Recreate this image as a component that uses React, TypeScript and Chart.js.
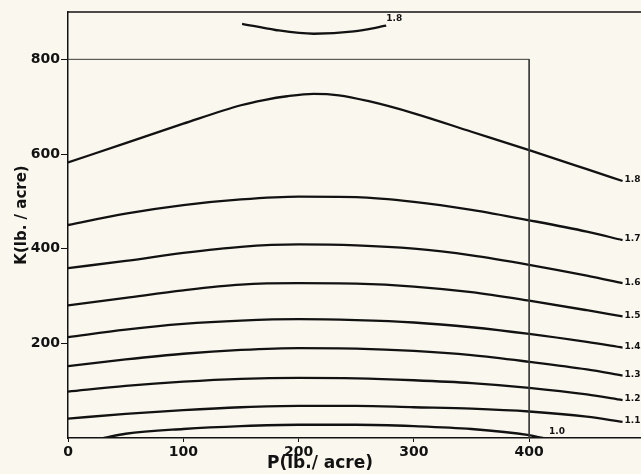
import { useEffect, useRef } from "react";
import { Chart, registerables } from "chart.js";

Chart.register(...registerables);

// Tick labels
const pTicks = [0, 100, 200, 300, 400];
const kTicks = [200, 400, 600, 800];

// Contour levels (yield index)
const contourLevels = ["1.8", "1.7", "1.6", "1.5", "1.4", "1.3", "1.2", "1.1"];

// P values at which the contours were read
const pGrid = [0, 50, 100, 150, 200, 250, 300, 350, 400, 450, 481];

// 1.8 main contour (own P positions, peaked)
const p18 = [0, 50, 100, 150, 170, 190, 213, 235, 260, 300, 350, 400, 450, 481];
const k18 = [582, 623, 664, 703, 714, 722, 727, 724, 712, 686, 647, 608, 568, 543];

const k17 = [450, 474, 492, 504, 510, 509, 499, 482, 460, 436, 418];
const k16 = [359, 374, 391, 404, 409, 407, 400, 386, 366, 343, 327];
const k15 = [280, 296, 312, 324, 327, 326, 320, 308, 290, 270, 257];
const k14 = [213, 229, 241, 248, 251, 249, 244, 234, 220, 203, 191];
const k13 = [152, 166, 178, 186, 190, 189, 184, 175, 161, 145, 132];
const k12 = [98, 110, 119, 125, 127, 126, 122, 116, 106, 92, 80];
const k11 = [41, 51, 59, 65, 68, 68, 65, 62, 56, 45, 34];

// 1.0 contour
const p10 = [31, 50, 100, 150, 200, 250, 300, 350, 400, 412];
const k10 = [0, 9, 19, 25, 28, 28, 25, 19, 6, 0];

// small 1.8 island near the top
const pIsland = [151, 180, 213, 248, 276];
const kIsland = [875, 862, 854, 859, 871];

// reference rectangle (P 0..400, K 0..800)
const boxP = [0, 400, 400];
const boxK = [800, 800, 0];

const FONT = '"DejaVu Sans", sans-serif';
const INK = "#121212";
const PAPER = "#faf8ee";

function pts(xs: number[], ys: number[]) {
  return xs.map((x, i) => ({ x, y: ys[i] }));
}

export default function App() {
  const ref = useRef<HTMLCanvasElement | null>(null);

  useEffect(() => {
    if (!ref.current) return;

    const curveStyle = {
      borderColor: INK,
      borderWidth: 2.3,
      pointRadius: 0,
      cubicInterpolationMode: "monotone" as const,
      fill: false,
    };

    const mids = [k17, k16, k15, k14, k13, k12, k11];

    const datasets: any[] = [
      {
        data: pts(boxP, boxK),
        borderColor: "#3a3a3a",
        borderWidth: 1,
        pointRadius: 0,
        tension: 0,
        fill: false,
      },
      { ...curveStyle, data: pts(p18, k18), endLabel: contourLevels[0], dx: 2, dy: -1 },
      ...mids.map((ks, i) => ({
        ...curveStyle,
        data: pts(pGrid, ks),
        endLabel: contourLevels[i + 1],
        dx: 2,
        dy: -1,
      })),
      { ...curveStyle, data: pts(p10, k10), endLabel: "1.0", dx: 6, dy: -6 },
      { ...curveStyle, data: pts(pIsland, kIsland), endLabel: "1.8", dx: 0, dy: -7 },
    ];

    const paperPlugin = {
      id: "paper",
      beforeDraw(chart: any) {
        const c = chart.ctx;
        c.save();
        c.fillStyle = PAPER;
        c.fillRect(0, 0, chart.width, chart.height);
        c.restore();
      },
    };

    const decorPlugin = {
      id: "decor",
      afterDraw(chart: any) {
        const c = chart.ctx;
        const a = chart.chartArea;
        c.save();
        // top frame line
        c.strokeStyle = INK;
        c.lineWidth = 1.5;
        c.beginPath();
        c.moveTo(a.left, a.top);
        c.lineTo(a.right, a.top);
        c.stroke();

        // contour labels
        c.fillStyle = INK;
        c.font = `bold 9px ${FONT}`;
        c.textAlign = "left";
        c.textBaseline = "middle";
        chart.data.datasets.forEach((ds: any, i: number) => {
          if (!ds.endLabel) return;
          const meta = chart.getDatasetMeta(i);
          const last = meta.data[meta.data.length - 1];
          c.fillText(ds.endLabel, last.x + ds.dx, last.y + ds.dy);
        });

        // axis titles
        c.font = `bold 17px ${FONT}`;
        c.textAlign = "center";
        c.textBaseline = "middle";
        c.fillText("P(lb./ acre)", 320, 464);

        c.save();
        c.translate(22, 215);
        c.rotate(-Math.PI / 2);
        c.font = `bold 15px ${FONT}`;
        c.fillText("K(lb. / acre)", 0, 0);
        c.restore();
        c.restore();
      },
    };

    const chart = new Chart(ref.current, {
      type: "line",
      data: { datasets },
      options: {
        responsive: false,
        animation: false,
        layout: { padding: { top: 12, right: 0, left: 0, bottom: 0 } },
        plugins: {
          legend: { display: false },
          tooltip: { enabled: false },
        },
        scales: {
          x: {
            type: "linear",
            min: 0,
            max: 497,
            afterBuildTicks: (s: any) => {
              s.ticks = pTicks.map((v) => ({ value: v }));
            },
            afterFit: (s: any) => {
              s.height = 36;
            },
            grid: {
              display: true,
              drawOnChartArea: false,
              drawTicks: true,
              tickLength: 4,
              color: INK,
              lineWidth: 1,
            },
            border: { display: true, color: INK, width: 1.5 },
            ticks: {
              font: { family: FONT, size: 14, weight: "bold" },
              color: INK,
              padding: 2,
              maxRotation: 0,
              autoSkip: false,
            },
          },
          y: {
            type: "linear",
            min: 0,
            max: 900,
            afterBuildTicks: (s: any) => {
              s.ticks = kTicks.map((v) => ({ value: v }));
            },
            afterFit: (s: any) => {
              s.width = 68;
            },
            grid: {
              display: true,
              drawOnChartArea: false,
              drawTicks: true,
              tickLength: 7,
              color: INK,
              lineWidth: 1,
            },
            border: { display: true, color: INK, width: 1.5 },
            ticks: {
              font: { family: FONT, size: 14, weight: "bold" },
              color: INK,
              padding: 1,
              autoSkip: false,
            },
          },
        },
      },
      plugins: [paperPlugin, decorPlugin],
    });

    return () => chart.destroy();
  }, []);

  return (
    <div style={{ position: "absolute", left: 0, top: 0, width: 641, height: 474, background: PAPER }}>
      <canvas ref={ref} width={641} height={474} style={{ display: "block" }} />
    </div>
  );
}
